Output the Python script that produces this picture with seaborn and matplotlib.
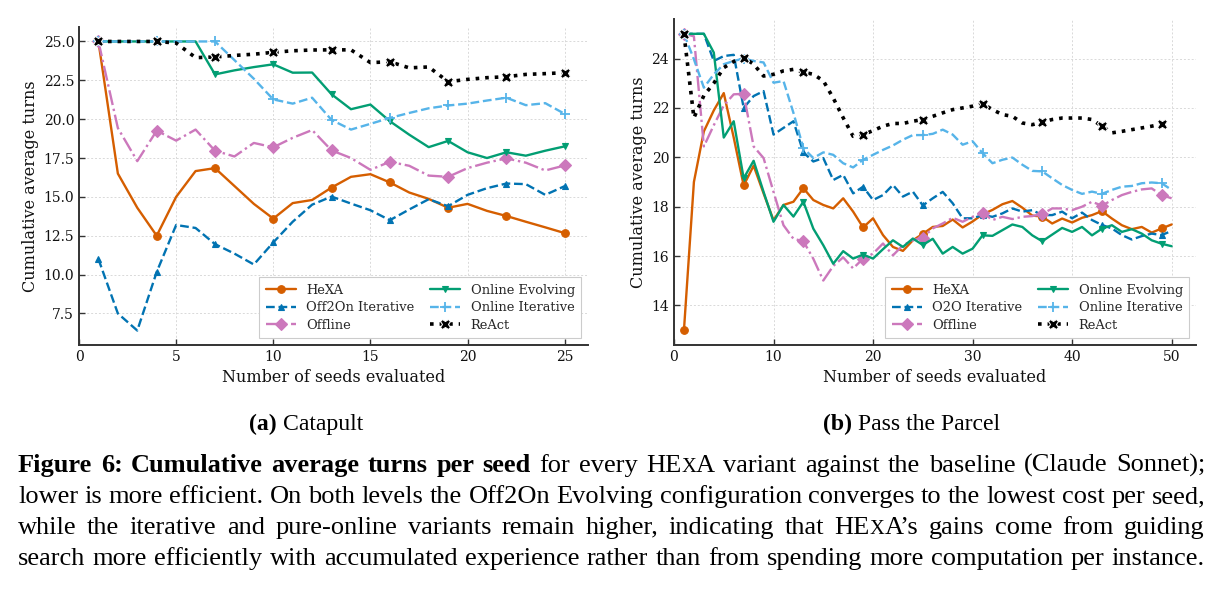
import numpy as np
import pandas as pd
import matplotlib
matplotlib.use("Agg")
import matplotlib.pyplot as plt
import seaborn as sns

# ---------------- data ----------------
seeds_a = list(range(1, 26))
hexa_a = [25.0, 16.5, 14.3, 12.5, 15.0, 16.66, 16.85, 15.7, 14.55, 13.6, 14.6, 14.8, 15.6,
          16.29, 16.46, 15.93, 15.28, 14.87, 14.3, 14.55, 14.1, 13.77, 13.4, 13.04, 12.67]
off2on_a = [11.0, 7.5, 6.4, 10.17, 13.19, 13.0, 11.96, 11.35, 10.65, 12.07, 13.4, 14.5, 15.02,
            14.57, 14.14, 13.5, 14.19, 14.85, 14.4, 15.13, 15.56, 15.86, 15.82, 15.13, 15.69]
offline_a = [25.0, 19.43, 17.3, 19.26, 18.62, 19.33, 17.97, 17.6, 18.47, 18.19, 18.8, 19.3, 17.99,
             17.5, 16.74, 17.26, 17.0, 16.37, 16.29, 16.85, 17.2, 17.48, 17.2, 16.7, 17.02]
evolving_a = [25.0, 25.0, 25.0, 25.0, 25.0, 25.0, 22.88, 23.14, 23.35, 23.53, 22.99, 23.0, 21.6,
              20.64, 20.94, 19.87, 19.0, 18.2, 18.6, 17.87, 17.5, 17.87, 17.65, 17.97, 18.25]
iterative_a = [25.0, 25.0, 25.0, 25.0, 25.0, 25.0, 25.0, 23.8, 22.6, 21.27, 21.0, 21.38, 19.95,
               19.33, 19.7, 20.08, 20.4, 20.7, 20.88, 21.0, 21.2, 21.38, 20.9, 21.03, 20.34]
react_a = [25.0, 25.0, 25.0, 25.0, 24.9, 23.96, 24.0, 24.1, 24.18, 24.3, 24.4, 24.45, 24.46,
           24.46, 23.64, 23.69, 23.3, 23.36, 22.41, 22.56, 22.67, 22.73, 22.88, 22.93, 22.99]

seeds_b = list(range(1, 51))
hexa_b = [13.0, 19.0, 21.05, 21.9, 22.6, 20.8, 18.86, 19.66, 18.54, 17.45, 18.07, 18.2, 18.75,
          18.27, 18.07, 17.93, 18.34, 17.8, 17.16, 17.53, 16.85, 16.37, 16.21, 16.64, 16.9,
          17.18, 17.22, 17.48, 17.16, 17.4, 17.69, 17.87, 18.1, 18.23, 17.96, 17.64, 17.6,
          17.32, 17.52, 17.36, 17.55, 17.66, 17.82, 17.52, 17.25, 17.09, 17.18, 16.95, 17.12, 17.28]
o2o_b = [25.0, 25.0, 25.0, 23.9, 24.1, 24.15, 22.0, 22.48, 22.68, 20.92, 21.19, 21.46, 20.2,
         19.83, 19.97, 19.08, 19.29, 18.54, 18.81, 18.27, 18.47, 18.88, 18.41, 18.61, 18.05,
         18.34, 18.6, 18.14, 17.53, 17.53, 17.66, 17.59, 17.73, 17.93, 17.8, 17.86, 17.66,
         17.66, 17.8, 17.53, 17.76, 17.46, 17.26, 17.12, 16.85, 16.67, 16.81, 16.91, 16.85, 17.02]
offline_b = [25.0, 24.9, 20.44, 21.3, 22.1, 22.55, 22.57, 20.44, 19.97, 18.6, 17.25, 16.7, 16.6,
             15.89, 15.01, 15.6, 15.95, 15.5, 15.9, 16.1, 16.51, 16.03, 16.44, 16.64, 16.75,
             17.12, 17.32, 17.55, 17.39, 17.59, 17.76, 17.46, 17.59, 17.5, 17.59, 17.62, 17.7,
             17.93, 17.93, 17.86, 18.0, 18.2, 18.04, 18.27, 18.47, 18.6, 18.7, 18.74, 18.47, 18.34]
evolving_b = [25.0, 25.0, 25.0, 24.24, 20.8, 21.46, 19.15, 19.86, 18.6, 17.39, 18.07, 17.6, 18.2,
              17.11, 16.44, 15.69, 16.2, 15.9, 16.06, 15.9, 16.28, 16.64, 16.37, 16.71, 16.45,
              16.7, 16.1, 16.37, 16.1, 16.3, 16.84, 16.82, 17.05, 17.28, 17.18, 16.84, 16.6,
              16.87, 17.14, 16.98, 17.18, 16.84, 17.11, 17.25, 16.98, 17.09, 16.91, 16.64, 16.5, 16.4]
iter_b = [25.0, 23.97, 22.82, 23.36, 23.77, 23.9, 24.0, 23.9, 23.84, 23.02, 23.09, 21.8, 20.37,
          19.97, 20.2, 20.1, 19.76, 19.59, 19.9, 20.1, 20.3, 20.48, 20.71, 20.9, 20.9,
          20.95, 21.12, 20.92, 20.51, 20.65, 20.17, 19.76, 19.9, 19.99, 19.7, 19.45, 19.43,
          19.15, 18.88, 18.68, 18.52, 18.61, 18.52, 18.68, 18.81, 18.84, 18.95, 18.98, 18.95, 18.68]
react_b = [25.0, 21.6, 22.5, 23.0, 23.63, 23.88, 24.04, 23.77, 23.29, 23.36, 23.5, 23.56, 23.45,
           23.36, 23.1, 22.4, 21.6, 20.85, 20.92, 21.08, 21.26, 21.37, 21.37, 21.46, 21.53,
           21.66, 21.8, 21.93, 22.0, 22.07, 22.17, 21.93, 21.73, 21.66, 21.39, 21.32, 21.43,
           21.53, 21.59, 21.59, 21.59, 21.53, 21.26, 20.99, 21.05, 21.12, 21.19, 21.26, 21.35]

labels_a = ["HeXA", "Off2On Iterative", "Offline", "Online Evolving", "Online Iterative", "ReAct"]
labels_b = ["HeXA", "O2O Iterative", "Offline", "Online Evolving", "Online Iterative", "ReAct"]

# ---------------- style ----------------
sns.set_theme(style="ticks")
plt.rcParams['font.family'] = ['DejaVu Serif']
plt.rcParams['axes.unicode_minus'] = False

colors = ["#d55e00", "#0173b2", "#cc78bc", "#029e73", "#56b4e9", "#000000"]
lstyles = ["-", "--", "-.", "-", "--", ":"]
markers = ["o", "^", "D", "v", "+", "X"]
msizes = [5.5, 5, 6, 5, 6.5, 7.5]
lwidths = [1.7, 1.7, 1.7, 1.7, 1.7, 2.6]
medges = ["#d55e00", "#0173b2", "#cc78bc", "#029e73", "#56b4e9", "#ffffff"]
mewidths = [0.8, 0.8, 0.8, 0.8, 1.3, 0.75]

W, H = 1223, 593
fig = plt.figure(figsize=(W / 100, H / 100), dpi=100)
ax_a = fig.add_axes([79 / W, 1 - 345 / H, 509 / W, (345 - 27) / H])
ax_b = fig.add_axes([674 / W, 1 - 345 / H, 522 / W, (345 - 19) / H])


def draw(ax, seeds, series, labels, every, xticks):
    for i, (ys, lab) in enumerate(zip(series, labels)):
        xs = seeds[:len(ys)]
        df = pd.DataFrame({"seed": xs, "turns": ys})
        sns.lineplot(data=df, x="seed", y="turns", ax=ax, color=colors[i],
                     linestyle=lstyles[i], linewidth=lwidths[i], marker=markers[i],
                     markersize=msizes[i], markevery=every,
                     markeredgecolor=medges[i], markeredgewidth=mewidths[i],
                     label=lab)
    ax.set_xlim(left=0)
    ax.set_xticks(xticks)
    ax.grid(True, linestyle=(0, (2, 2)), color="#d9d9d9", linewidth=0.7)
    sns.despine(ax=ax)
    for s in ["left", "bottom"]:
        ax.spines[s].set_color("#333333")
        ax.spines[s].set_linewidth(1.4)
    ax.tick_params(direction="in", length=4, width=1, colors="#333333", labelsize=10,
                   labelcolor="#111111")
    ax.set_xlabel("Number of seeds evaluated", fontsize=11.5, color="#111111", labelpad=4)
    ax.set_ylabel("Cumulative average turns", fontsize=11.5, color="#111111", labelpad=3)
    leg = ax.legend(ncol=2, loc="lower right", fontsize=9.4, frameon=True, fancybox=False,
                    edgecolor="#cccccc", framealpha=1, columnspacing=1.2, handlelength=2.3,
                    handletextpad=0.8, borderpad=0.5, labelspacing=0.35)
    leg.get_frame().set_linewidth(0.8)


draw(ax_a, seeds_a, [hexa_a, off2on_a, offline_a, evolving_a, iterative_a, react_a],
     labels_a, 3, [0, 5, 10, 15, 20, 25])
draw(ax_b, seeds_b, [hexa_b, o2o_b, offline_b, evolving_b, iter_b, react_b],
     labels_b, 6, [0, 10, 20, 30, 40, 50])

# ---------------- captions ----------------
SERIF = ["Liberation Serif", "DejaVu Serif"]
renderer = fig.canvas.get_renderer()


def runs_for(word, bold):
    if word.startswith("HEXA"):
        return [("HE", bold, 1.0), ("X", bold, 0.78), (word[3:], bold, 1.0)]
    return [(word, bold, 1.0)]


def measure(txt, bold, size):
    t = fig.text(0, 0, txt, fontsize=size, fontweight="bold" if bold else "normal",
                 family=SERIF)
    w = t.get_window_extent(renderer).width
    t.remove()
    return w


def draw_runs(x, y, runs, size):
    for txt, bold, sc in runs:
        t = fig.text(x / W, 1 - y / H, txt, fontsize=size * sc,
                     fontweight="bold" if bold else "normal", family=SERIF,
                     va="baseline", ha="left", color="black")
        x += t.get_window_extent(renderer).width
    return x


caption_lines = [
    "Figure 6: Cumulative average turns per seed for every HEXA variant against the baseline (Claude Sonnet);",
    "lower is more efficient. On both levels the Off2On Evolving configuration converges to the lowest cost per seed,",
    "while the iterative and pure-online variants remain higher, indicating that HEXA\u2019s gains come from guiding",
    "search more efficiently with accumulated experience rather than from spending more computation per instance.",
]
n_bold = 7
x0, x1 = 18, 1205
baselines = [472, 503, 534, 565]

parsed = []
for li, line in enumerate(caption_lines):
    words = line.split(" ")
    parsed.append([runs_for(w, li == 0 and wi < n_bold) for wi, w in enumerate(words)])

base = 10.0
needed = []
for words in parsed:
    tot = sum(measure(t, b, base * s) for wr in words for (t, b, s) in wr)
    tot += (len(words) - 1) * measure("a a", False, base) - (len(words) - 1) * measure("aa", False, base)
    needed.append(tot)
fs = base * (x1 - x0) / max(needed)

for words, yb in zip(parsed, baselines):
    widths = [sum(measure(t, b, fs * s) for (t, b, s) in wr) for wr in words]
    gap = ((x1 - x0) - sum(widths)) / (len(words) - 1)
    x = x0
    for wr, w in zip(words, widths):
        draw_runs(x, yb, wr, fs)
        x += w + gap

# sub-captions
sub_fs = fs * 0.9
for cx, lab, rest in [(306, "(a)", " Catapult"), (912, "(b)", " Pass the Parcel")]:
    wa = measure(lab, True, sub_fs)
    wb = measure(rest, False, sub_fs)
    draw_runs(cx - (wa + wb) / 2, 430, [(lab, True, 1.0), (rest, False, 1.0)], sub_fs)

fig.savefig("out.png", dpi=100)
